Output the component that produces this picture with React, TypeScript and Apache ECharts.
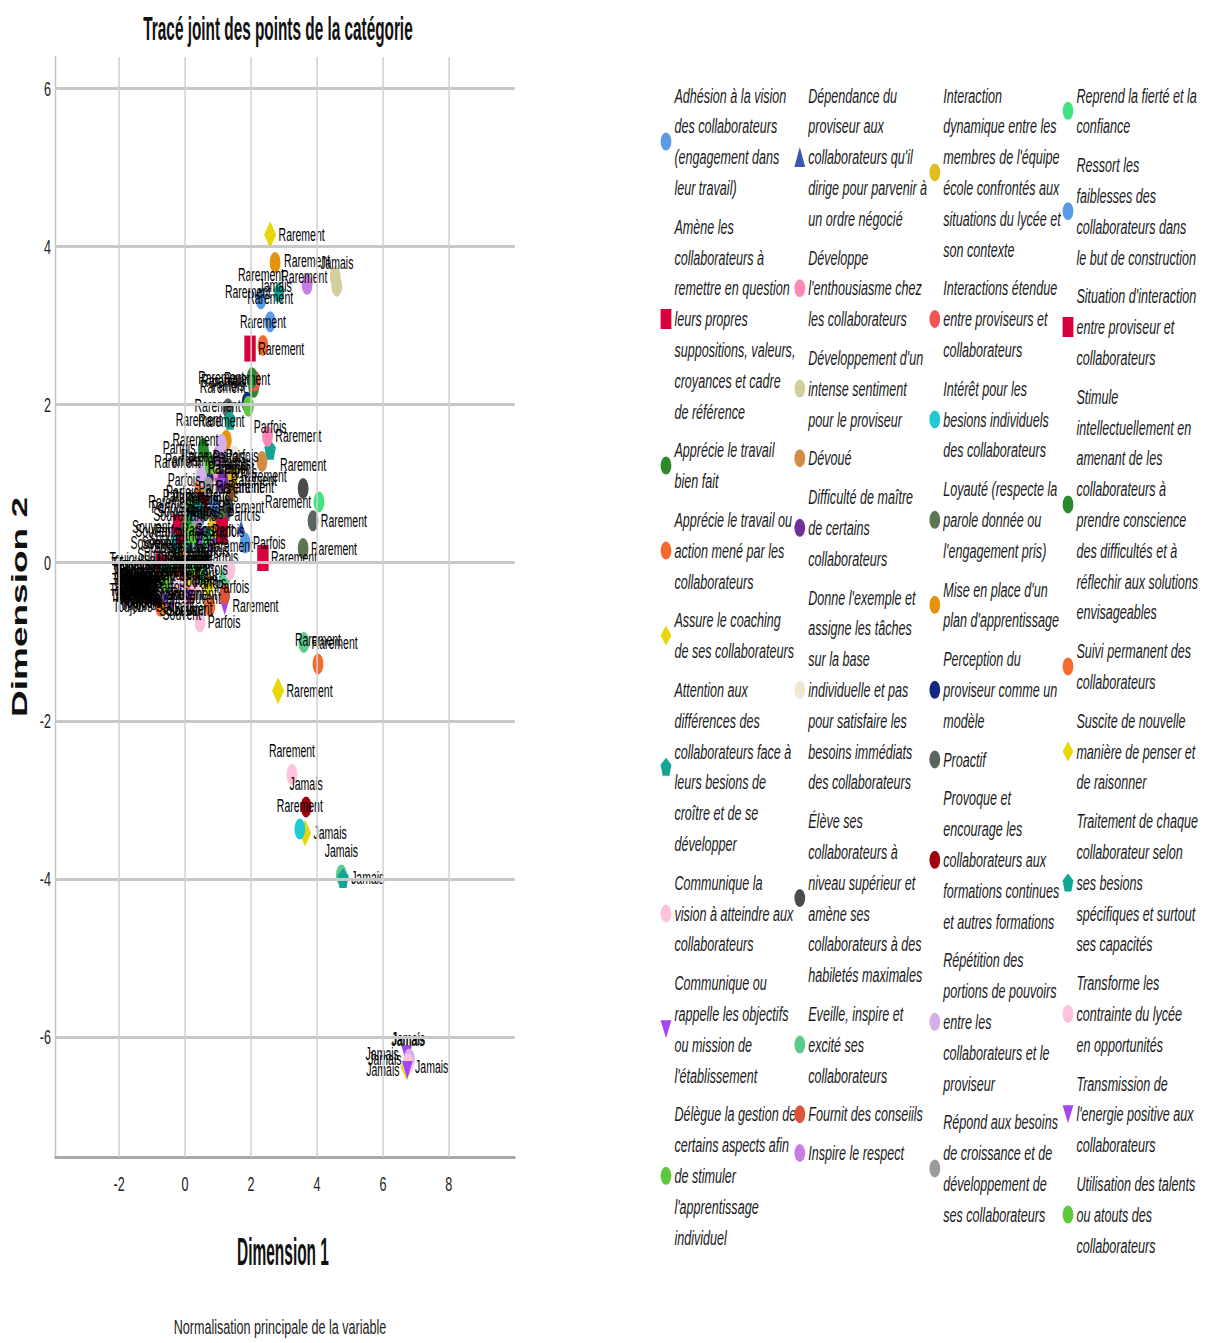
import React, { useEffect, useRef } from "react";
import * as echarts from "echarts";

// Horizontal squash of the original picture (all text is tall and narrow)
const SX = 0.6;
const W = 2023;
const H = 1343;
const FONT = "'Liberation Sans', Arial, sans-serif";

const categories = ["Jamais", "Rarement", "Parfois", "Souvent", "Toujours"];
const xTicks = [-2, 0, 2, 4, 6, 8];
const yTicks = [-6, -4, -2, 0, 2, 4, 6];

const legendLines: string[][] = [
  ["Adhésion à la vision", "des collaborateurs", "(engagement dans", "leur travail)"],
  ["Amène les", "collaborateurs à", "remettre en question", "leurs propres", "suppositions, valeurs,", "croyances et cadre", "de référence"],
  ["Apprécie le travail", "bien fait"],
  ["Apprécie le travail ou", "action mené par les", "collaborateurs"],
  ["Assure le coaching", "de ses collaborateurs"],
  ["Attention aux", "différences des", "collaborateurs face à", "leurs besions de", "croître et de se", "développer"],
  ["Communique la", "vision à atteindre aux", "collaborateurs"],
  ["Communique ou", "rappelle les objectifs", "ou mission de", "l'établissement"],
  ["Délègue la gestion de", "certains aspects afin", "de stimuler", "l'apprentissage", "individuel"],
  ["Dépendance du", "proviseur aux", "collaborateurs qu'il", "dirige pour parvenir à", "un ordre négocié"],
  ["Développe", "l'enthousiasme chez", "les collaborateurs"],
  ["Développement d'un", "intense sentiment", "pour le proviseur"],
  ["Dévoué"],
  ["Difficulté de maître", "de certains", "collaborateurs"],
  ["Donne l'exemple et", "assigne les tâches", "sur la base", "individuelle et pas", "pour satisfaire les", "besoins immédiats", "des collaborateurs"],
  ["Élève ses", "collaborateurs à", "niveau supérieur et", "amène ses", "collaborateurs à des", "habiletés maximales"],
  ["Eveille, inspire et", "excité ses", "collaborateurs"],
  ["Fournit des conseiils"],
  ["Inspire le respect"],
  ["Interaction", "dynamique entre les", "membres de l'équipe", "école confrontés aux", "situations du lycée et", "son contexte"],
  ["Interactions étendue", "entre proviseurs et", "collaborateurs"],
  ["Intérêt pour les", "besions individuels", "des collaborateurs"],
  ["Loyauté (respecte la", "parole donnée ou", "l'engagement pris)"],
  ["Mise en place d'un", "plan d'apprentissage"],
  ["Perception du", "proviseur comme un", "modèle"],
  ["Proactif"],
  ["Provoque et", "encourage les", "collaborateurs aux", "formations continues", "et autres formations"],
  ["Répétition des", "portions de pouvoirs", "entre les", "collaborateurs et le", "proviseur"],
  ["Répond aux besoins", "de croissance et de", "développement de", "ses collaborateurs"],
  ["Reprend la fierté et la", "confiance"],
  ["Ressort les", "faiblesses des", "collaborateurs dans", "le but de construction"],
  ["Situation d'interaction", "entre proviseur et", "collaborateurs"],
  ["Stimule", "intellectuellement en", "amenant de les", "collaborateurs à", "prendre conscience", "des difficultés et à", "réflechir aux solutions", "envisageables"],
  ["Suivi permanent des", "collaborateurs"],
  ["Suscite de nouvelle", "manière de penser et", "de raisonner"],
  ["Traitement de chaque", "collaborateur selon", "ses besions", "spécifiques et surtout", "ses capacités"],
  ["Transforme les", "contrainte du lycée", "en opportunités"],
  ["Transmission de", "l'energie positive aux", "collaborateurs"],
  ["Utilisation des talents", "ou atouts des", "collaborateurs"],
];

const columnCounts = [9, 10, 10, 10];

const colors = [
  "#5b9be6", "#d5003c", "#2b8a2e", "#f46a2f", "#e6d60a", "#12a594", "#fec2dd", "#a646f2", "#5dc83b",
  "#3a56b0", "#ff86b6", "#d3cf9a", "#d38c44", "#71319b", "#eee8d3", "#474c51", "#5dcb8e", "#da5638", "#c97de2",
  "#e3bd1f", "#f25353", "#1fcbd3", "#5e7553", "#e5930f", "#13297f", "#5a6560", "#a1000f", "#d4b0ea", "#9c9a9a",
  "#40e282", "#5b9be6", "#d5003c", "#2b8a2e", "#f46a2f", "#e6d60a", "#12a594", "#fec2dd", "#a646f2", "#5dc83b",
];

const shapes = [
  "ellipse", "square", "ellipse", "ellipse", "diamond", "pentagon", "ellipse", "triDown", "ellipse",
  "triUp", "ellipse", "ellipse", "ellipse", "ellipse", "ellipse", "ellipse", "ellipse", "ellipse", "ellipse",
  "ellipse", "ellipse", "ellipse", "ellipse", "ellipse", "ellipse", "ellipse", "ellipse", "ellipse", "ellipse",
  "ellipse", "ellipse", "square", "ellipse", "ellipse", "diamond", "pentagon", "ellipse", "triDown", "ellipse",
];

type P = [number, number] | null;

const jamais: P[] = [
  null, null, null, null, [3.64, -3.42], null, [6.78, -6.32], [6.72, -6.22], null,
  null, null, [4.6, 3.5], [2.33, 1.28], null, null, null, [4.74, -3.95], null, null,
  null, null, null, null, [2.73, 3.8], null, null, [3.67, -3.09], [6.8, -6.28], null,
  null, null, null, null, null, [6.72, -6.38], [4.79, -3.99], [6.76, -6.34], [6.74, -6.42], null,
];

const rarement: P[] = [
  [2.3, 3.34], [1.97, 2.71], [2.08, 2.22], [2.36, 2.75], [2.58, 4.15], [2.85, 3.43], [3.24, -2.68], [1.2, -0.55], [0.7, 1.27],
  [1.7, 0.45], [2.5, 1.6], [4.55, 3.62], [1.4, 0.9], [1.15, 1.05], [1.5, 1.35], [3.58, 0.94], [3.6, -1.01], [1.2, -0.4], [3.7, 3.52],
  [1.45, 1.1], [2.12, 2.3], [3.48, -3.37], [3.58, 0.18], [1.25, 1.55], [1.88, 2.03], [3.88, 0.53], [0.52, 0.77], [1.1, 1.5], [0.7, 0.96],
  [4.06, 0.77], [2.58, 3.05], [2.36, 0.06], [2.03, 2.34], [4.03, -1.28], [2.82, -1.62], [1.36, 1.81], [1.36, -0.09], [1.06, 0.96], [1.92, 1.98],
];

const parfois: P[] = [
  [0.62, 1.3], [1.12, 0.52], [0.6, 1.34], [0.45, 0.96], [0.95, 0.35], [2.58, 1.43], [0.45, -0.75], [0.8, 0.2], [0.2, 0.7],
  [0.85, 0.55], [0.95, 1.15], [0.9, 1.24], [0.55, 0.85], [0.6, 1.0], [0.45, 1.2], [1.3, 0.7], [1.2, -0.2], [0.25, -0.3], [1.0, 1.35],
  [0.85, 0.45], [0.65, 0.9], [0.1, 0.54], [1.05, 0.6], [0.55, 0.95], [0.7, 1.05], [1.3, 1.95], [0.1, 0.3], [0.5, 1.1], [0.3, 0.4],
  [0.66, 0.33], [1.82, 0.25], [1.12, 0.4], [0.55, 1.45], [0.75, -0.55], [0.7, -0.3], [0.4, 0.7], [0.3, -0.3], [0.45, 0.33], [0.75, 1.25],
];

const souvent: P[] = [
  [0.1, 0.3], [-0.2, 0.45], [0.25, 0.35], [-0.05, -0.15], [0.4, 0.1], [0.45, 0.6], [-0.15, 0.2], [0.2, -0.05], [-0.1, 0.15],
  [0.3, -0.1], [0.15, 0.4], [0.3, 0.3], [0.0, -0.1], [0.45, 0.2], [-0.05, 0.35], [0.55, 0.05], [0.5, -0.15], [-0.15, -0.2], [0.35, 0.5],
  [0.3, 0.0], [0.05, -0.3], [-0.25, 0.25], [0.4, 0.15], [-0.05, 0.1], [0.25, 0.3], [0.55, 0.65], [-0.3, -0.25], [0.15, 0.2], [-0.1, -0.35],
  [0.2, -0.05], [0.9, 0.71], [-0.1, 0.4], [0.05, 0.45], [0.15, -0.4], [0.25, -0.25], [0.1, 0.25], [-0.2, -0.3], [0.1, -0.45], [0.2, 0.35],
];

const toujours: P[] = [
  [-0.62, -0.3], [-0.7, -0.12], [-0.55, -0.45], [-0.75, -0.55], [-0.5, -0.38], [-0.45, -0.05], [-0.85, 0.05], [-0.6, -0.25], [-0.58, -0.18],
  [-0.52, -0.5], [-0.68, -0.35], [-0.6, -0.22], [-0.72, -0.42], [-0.48, -0.48], [-0.78, -0.1], [-0.4, -0.32], [-0.62, -0.02], [-0.74, -0.28], [-0.5, -0.2],
  [-0.55, -0.28], [-0.66, -0.4], [-0.8, -0.02], [-0.46, -0.36], [-0.64, -0.52], [-0.56, -0.15], [-0.38, -0.18], [-0.82, -0.42], [-0.6, -0.34], [-0.7, -0.2],
  [-0.58, -0.4], [-0.44, -0.24], [-0.72, -0.06], [-0.6, -0.3], [-0.78, -0.22], [-0.52, -0.16], [-0.62, -0.1], [-0.85, -0.35], [-0.58, -0.46], [-0.6, -0.26],
];

const ELLIPSE = "path://M10 0A10 10 0 1 1 10 20A10 10 0 1 1 10 0Z";
const PENTAGON = "path://M10 0L20 7.6L16.2 20L3.8 20L0 7.6Z";
const TRI_DOWN = "path://M0 0L20 0L10 20Z";
const symbolOf: Record<string, [string, number[]]> = {
  ellipse: [ELLIPSE, [18, 21]],
  square: ["rect", [19, 26]],
  diamond: ["diamond", [20, 27]],
  pentagon: [PENTAGON, [19, 20]],
  triDown: [TRI_DOWN, [18, 18]],
  triUp: ["triangle", [15, 14]],
};

// label placement around each point, varied per variable like the original
const labelCycle: Record<string, string[]> = {
  Jamais: ["right", "top", "left", "bottom", "right"],
  Rarement: ["top", "right", "left"],
  Parfois: ["left", "top", "right", "bottom"],
  Souvent: ["bottom", "left"],
  Toujours: ["left"],
};

const pointSets = [jamais, rarement, parfois, souvent, toujours];
const names = legendLines.map((l) => l.join(" "));
const wrapped: Record<string, string> = {};
names.forEach((n, i) => (wrapped[n] = legendLines[i].join("\n")));

function buildOption() {
  const series: any[] = [
    {
      type: "scatter",
      name: "grille",
      data: [[0, 0]],
      symbolSize: 0,
      silent: true,
      z: 1,
      markLine: {
        silent: true,
        symbol: ["none", "none"],
        label: { show: false },
        emphasis: { disabled: true },
        data: [
          ...yTicks.map((v) => ({ yAxis: v, lineStyle: { color: "#c8c8c8", width: 3, type: "solid" } })),
          ...xTicks.map((v) => ({ xAxis: v, lineStyle: { color: "#d0d0d0", width: 2.5, type: "solid" } })),
        ],
      },
    },
  ];
  names.forEach((name, i) => {
    const [sym, size] = symbolOf[shapes[i]];
    const data: any[] = [];
    pointSets.forEach((set, c) => {
      const p = set[i];
      if (p) {
        const cyc = labelCycle[categories[c]];
        data.push({ value: p, name: categories[c], label: { position: cyc[i % cyc.length] } });
      }
    });
    series.push({
      type: "scatter",
      name,
      symbol: sym,
      symbolSize: size,
      z: 3,
      itemStyle: { color: colors[i], opacity: 1 },
      label: {
        show: true,
        formatter: "{b}",
        fontSize: 17.5,
        fontFamily: FONT,
        color: "#000",
        distance: 4,
      },
      emphasis: { disabled: true },
      data,
    });
  });

  const legendLefts = [1101, 1324, 1549, 1771];
  let start = 0;
  const legends = columnCounts.map((count, k) => {
    const data = names.slice(start, start + count);
    start += count;
    return {
      orient: "vertical",
      left: legendLefts[k],
      top: 80,
      padding: 0,
      itemWidth: 18,
      itemHeight: 20,
      itemGap: 8,
      selectedMode: false,
      data,
      formatter: (n: string) => wrapped[n],
      textStyle: {
        fontFamily: FONT,
        fontStyle: "italic",
        fontSize: 21,
        lineHeight: 30.8,
        color: "#1a1a1a",
      },
    };
  });

  return {
    animation: false,
    backgroundColor: "#ffffff",
    grid: { left: 92, right: W - 858, top: 57, bottom: H - 1157, containLabel: false },
    xAxis: {
      type: "value",
      min: -3.94,
      max: 10,
      axisLine: { show: true, onZero: false, lineStyle: { color: "#a8a8a8", width: 3 } },
      axisTick: { show: false },
      splitLine: { show: false },
      axisLabel: { customValues: xTicks, fontSize: 21, fontFamily: FONT, color: "#222", margin: 16 },
    },
    yAxis: {
      type: "value",
      min: -7.52,
      max: 6.4,
      axisLine: { show: true, onZero: false, lineStyle: { color: "#c4c4c4", width: 2.5 } },
      axisTick: { show: false },
      splitLine: { show: false },
      axisLabel: { customValues: yTicks, fontSize: 21, fontFamily: FONT, color: "#222", margin: 7 },
    },
    legend: legends,
    graphic: [
      {
        type: "text",
        x: 278 / SX,
        y: 28,
        scaleX: 0.775,
        silent: true,
        style: {
          text: "Tracé joint des points de la catégorie",
          fontSize: 33,
          fontWeight: "bold",
          fontFamily: FONT,
          fill: "#111",
          textAlign: "center",
          textVerticalAlign: "middle",
        },
      },
      {
        type: "text",
        x: 283 / SX,
        y: 1251,
        scaleX: 0.661,
        silent: true,
        style: {
          text: "Dimension 1",
          fontSize: 39,
          fontWeight: "bold",
          fontFamily: FONT,
          fill: "#111",
          textAlign: "center",
          textVerticalAlign: "middle",
        },
      },
      {
        type: "text",
        x: 18.5 / SX,
        y: 607,
        rotation: Math.PI / 2,
        silent: true,
        style: {
          text: "Dimension 2",
          fontSize: 37,
          fontWeight: "bold",
          fontFamily: FONT,
          fill: "#111",
          textAlign: "center",
          textVerticalAlign: "middle",
        },
      },
      {
        type: "text",
        x: 280 / SX,
        y: 1327,
        silent: true,
        style: {
          text: "Normalisation principale de la variable",
          fontSize: 21,
          fontFamily: FONT,
          fill: "#222",
          textAlign: "center",
          textVerticalAlign: "middle",
        },
      },
    ],
    series,
  };
}

export default function App() {
  const ref = useRef<HTMLDivElement>(null);
  useEffect(() => {
    if (!ref.current) return;
    const chart = echarts.init(ref.current, undefined, { renderer: "svg", width: W, height: H });
    chart.setOption(buildOption() as any);
    return () => chart.dispose();
  }, []);
  return (
    <div
      ref={ref}
      style={{
        position: "fixed",
        left: 0,
        top: 0,
        width: W,
        height: H,
        transform: `scaleX(${SX})`,
        transformOrigin: "0 0",
        background: "#fff",
      }}
    />
  );
}
